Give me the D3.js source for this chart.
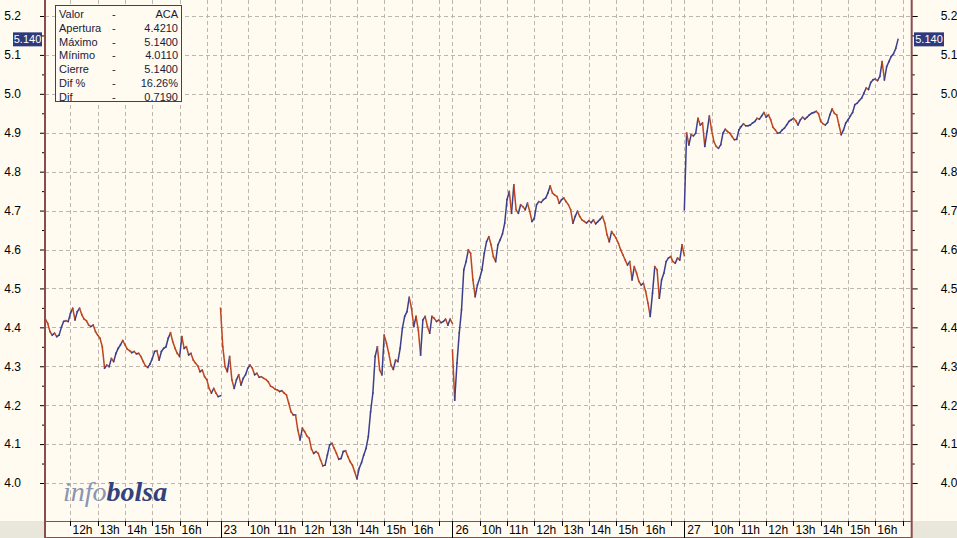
<!DOCTYPE html>
<html>
<head>
<meta charset="utf-8">
<script src="https://cdn.jsdelivr.net/npm/d3@7"></script>
<style>
  body { margin: 0; background: #fffbf0; }
  svg { display: block; font-family: "Liberation Sans", Arial, sans-serif; }
</style>
</head>
<body>
<div id="chart"></div>
<script>
// sessions shown (day of month) and first bar of each session
const days = ["22", "23", "26", "27"];
const dayStart = ["11:05", "09:00", "09:00", "09:00"];

// prices every 5 minutes
const p22 = [4.421,4.410,4.389,4.380,4.385,4.376,4.380,4.400,4.415,4.417,4.415,4.436,4.449,4.419,4.440,4.449,4.432,4.421,4.417,4.406,4.402,4.406,4.389,4.380,4.372,4.350,4.295,4.303,4.299,4.320,4.312,4.333,4.346,4.355,4.366,4.355,4.344,4.340,4.335,4.338,4.332,4.333,4.325,4.312,4.301,4.297,4.306,4.320,4.338,4.340,4.316,4.338,4.346,4.350,4.372,4.386,4.363,4.346,4.333,4.325,4.376,4.346,4.350,4.329,4.333,4.316,4.308,4.301,4.286,4.290,4.273,4.265,4.243,4.231,4.243,4.231,4.222,4.224];
const p23 = [4.449,4.350,4.299,4.286,4.325,4.265,4.243,4.265,4.278,4.252,4.269,4.278,4.295,4.303,4.295,4.278,4.282,4.272,4.273,4.269,4.266,4.260,4.249,4.246,4.241,4.239,4.235,4.237,4.231,4.226,4.205,4.183,4.175,4.175,4.136,4.111,4.141,4.132,4.121,4.115,4.087,4.076,4.081,4.076,4.059,4.044,4.046,4.072,4.098,4.102,4.089,4.076,4.061,4.063,4.081,4.083,4.068,4.055,4.046,4.029,4.011,4.038,4.052,4.072,4.089,4.119,4.183,4.231,4.325,4.350,4.290,4.278,4.380,4.359,4.333,4.303,4.292,4.316,4.312,4.346,4.398,4.428,4.440,4.477,4.449,4.402,4.428,4.393,4.329,4.419,4.428,4.402,4.385,4.428,4.423,4.415,4.419,4.412,4.415,4.421,4.406,4.421,4.410];
const p26 = [4.342,4.213,4.308,4.385,4.445,4.548,4.569,4.599,4.590,4.522,4.479,4.509,4.526,4.548,4.590,4.620,4.633,4.612,4.582,4.569,4.612,4.625,4.640,4.668,4.728,4.749,4.693,4.766,4.702,4.693,4.715,4.710,4.702,4.719,4.698,4.672,4.680,4.715,4.723,4.721,4.728,4.732,4.745,4.763,4.745,4.740,4.736,4.719,4.728,4.732,4.723,4.715,4.702,4.668,4.685,4.698,4.685,4.676,4.672,4.668,4.674,4.669,4.676,4.666,4.672,4.678,4.685,4.668,4.638,4.620,4.646,4.638,4.629,4.616,4.599,4.586,4.573,4.560,4.569,4.522,4.556,4.539,4.518,4.509,4.513,4.492,4.462,4.428,4.488,4.556,4.548,4.475,4.522,4.539,4.569,4.578,4.582,4.569,4.565,4.578,4.573,4.612,4.584];
const p27 = [4.702,4.899,4.869,4.895,4.892,4.899,4.937,4.920,4.925,4.865,4.903,4.943,4.907,4.877,4.865,4.860,4.869,4.899,4.909,4.903,4.899,4.890,4.882,4.883,4.907,4.916,4.923,4.918,4.918,4.920,4.925,4.929,4.937,4.935,4.943,4.952,4.940,4.946,4.933,4.914,4.907,4.899,4.900,4.907,4.912,4.920,4.929,4.933,4.937,4.931,4.920,4.933,4.940,4.935,4.940,4.946,4.950,4.952,4.955,4.949,4.929,4.923,4.920,4.926,4.946,4.961,4.950,4.946,4.920,4.895,4.907,4.925,4.933,4.943,4.952,4.972,4.976,4.983,4.989,5.002,5.015,5.011,5.029,5.036,5.038,5.034,5.045,5.083,5.036,5.070,5.083,5.096,5.103,5.117,5.140];
const prices = [p22, p23, p26, p27];

const yTicks = [4.0, 4.1, 4.2, 4.3, 4.4, 4.5, 4.6, 4.7, 4.8, 4.9, 5.0, 5.1, 5.2];
const yMinor = [4.05, 4.15, 4.25, 4.35, 4.45, 4.55, 4.65, 4.75, 4.85, 4.95, 5.05, 5.15];
const hourTicks = [10, 11, 12, 13, 14, 15, 16, 17];
const legendLabels = ["Valor", "Apertura", "Máximo", "Mínimo", "Cierre", "Dif %", "Dif"];
const legendValues = ["ACA", "4.4210", "5.1400", "4.0110", "5.1400", "16.26%", "0.7190"];
const lastPrice = 5.140;

const width = 957, height = 538;
const left = 45, right = 911.7, bottom = 521;
const session = 510; // 09:00 - 17:30 in minutes
const upColor = "#3b3f8e", downColor = "#bd4620";
const gridColor = "#bcb8b0", frameColor = "#8a4c4c";

const toMin = s => { const [h, m] = s.split(":").map(Number); return h * 60 + m - 540; };

// build series on a trading-minute axis
const series = days.map((d, i) => prices[i].map((v, k) => ({ t: i * session + toMin(dayStart[i]) + 5 * k, v })));

const x = d3.scaleLinear().domain([124, 3 * session + 500]).range([left, right]);
const y = d3.scaleLinear().domain([4.0, 5.2]).range([483, 16]);

const svg = d3.select("#chart").append("svg")
  .attr("width", width).attr("height", height)
  .attr("viewBox", `0 0 ${width} ${height}`);

svg.append("rect").attr("width", width).attr("height", height).attr("fill", "#fffbf0");

// grey corners of the time strip
svg.append("rect").attr("x", 0).attr("y", bottom).attr("width", left).attr("height", height - bottom).attr("fill", "#e9e6dc");
svg.append("rect").attr("x", right).attr("y", bottom).attr("width", width - right).attr("height", height - bottom).attr("fill", "#e9e6dc");

// time ticks
const dayTicks = [], hourT = [];
days.forEach((d, i) => {
  if (i > 0) dayTicks.push({ t: i * session, label: d });
  hourTicks.forEach(h => {
    const t = i * session + (h - 9) * 60;
    if (t > x.domain()[0] && t < x.domain()[1]) hourT.push({ t, label: h < 17 ? h + "h" : "" });
  });
});

// grid
const grid = svg.append("g").attr("stroke", gridColor).attr("stroke-dasharray", "4,3").attr("stroke-width", 1);
grid.selectAll(".gh").data(yTicks).enter().append("line")
  .attr("x1", left).attr("x2", right)
  .attr("y1", d => Math.round(y(d)) + 0.5).attr("y2", d => Math.round(y(d)) + 0.5);
grid.selectAll(".gv").data(hourT.concat(dayTicks)).enter().append("line")
  .attr("x1", d => Math.round(x(d.t)) + 0.5).attr("x2", d => Math.round(x(d.t)) + 0.5)
  .attr("y1", 0).attr("y2", bottom);

// price line, coloured by direction
const lines = svg.append("g").attr("stroke-width", 1.5).attr("stroke-linecap", "square");
series.forEach(s => {
  lines.selectAll(null).data(d3.pairs(s)).enter().append("line")
    .attr("x1", d => x(d[0].t)).attr("y1", d => y(d[0].v))
    .attr("x2", d => x(d[1].t)).attr("y2", d => y(d[1].v))
    .attr("stroke", d => d[1].v >= d[0].v ? upColor : downColor);
});

// watermark
const wm = svg.append("text").attr("x", 63).attr("y", 501)
  .attr("font-family", "'Liberation Serif', 'DejaVu Serif', serif")
  .attr("font-style", "italic").attr("font-size", 28);
wm.append("tspan").attr("fill", "#8a93b4").text("info");
wm.append("tspan").attr("fill", "#33427a").attr("font-weight", "bold").text("bolsa");

// y axes
const yAxisL = d3.axisLeft(y).tickValues(yTicks).tickSize(5).tickPadding(19).tickFormat(d3.format(".1f"));
const yAxisR = d3.axisRight(y).tickValues(yTicks).tickSize(6).tickPadding(23).tickFormat(d3.format(".1f"));
const gl = svg.append("g").attr("transform", `translate(${left},0)`).call(yAxisL);
const gr = svg.append("g").attr("transform", `translate(${right},0)`).call(yAxisR);
[gl, gr].forEach(g => {
  g.select(".domain").remove();
  g.selectAll("text").attr("font-size", 12).attr("fill", "#000").attr("font-family", "'Liberation Sans', Arial, sans-serif");
  g.selectAll("line").attr("stroke", "#000");
});
svg.append("g").attr("transform", `translate(${left},0)`)
  .call(d3.axisLeft(y).tickValues(yMinor).tickSize(3).tickFormat(""))
  .call(g => g.select(".domain").remove());
svg.append("g").attr("transform", `translate(${right},0)`)
  .call(d3.axisRight(y).tickValues(yMinor).tickSize(3).tickFormat(""))
  .call(g => g.select(".domain").remove());

// frame
svg.append("line").attr("x1", left).attr("x2", left).attr("y1", 0).attr("y2", height).attr("stroke", frameColor).attr("stroke-width", 2);
svg.append("line").attr("x1", right).attr("x2", right).attr("y1", 0).attr("y2", height).attr("stroke", frameColor).attr("stroke-width", 2);
svg.append("line").attr("x1", left).attr("x2", right).attr("y1", bottom + 0.5).attr("y2", bottom + 0.5).attr("stroke", frameColor).attr("stroke-width", 1);
svg.append("line").attr("x1", left).attr("x2", right).attr("y1", height - 0.5).attr("y2", height - 0.5).attr("stroke", frameColor).attr("stroke-width", 1);

// time axis
const xa = svg.append("g").attr("font-size", 12).attr("fill", "#000");
xa.selectAll(".ht").data(hourT).enter().append("line")
  .attr("x1", d => Math.round(x(d.t)) + 0.5).attr("x2", d => Math.round(x(d.t)) + 0.5)
  .attr("y1", bottom).attr("y2", bottom + 5).attr("stroke", "#000");
xa.selectAll(".hl").data(hourT).enter().append("text")
  .attr("x", d => x(d.t) + 2).attr("y", 534).text(d => d.label);
xa.selectAll(".dt").data(dayTicks).enter().append("line")
  .attr("x1", d => Math.round(x(d.t)) + 0.5).attr("x2", d => Math.round(x(d.t)) + 0.5)
  .attr("y1", bottom).attr("y2", height).attr("stroke", "#000");
xa.selectAll(".dl").data(dayTicks).enter().append("text")
  .attr("x", d => x(d.t) + 3).attr("y", 534).text(d => d.label);

// last price tags
[[13, 29], [914, 30]].forEach(([bx, bw]) => {
  svg.append("rect").attr("x", bx).attr("y", y(lastPrice) - 7).attr("width", bw).attr("height", 14).attr("fill", "#2f3a7c");
  svg.append("text").attr("x", bx + bw / 2).attr("y", y(lastPrice) + 4).attr("text-anchor", "middle")
    .attr("font-size", 11).attr("fill", "#fff").text(d3.format(".3f")(lastPrice));
});

// info box
const box = svg.append("g").attr("font-size", 11).attr("fill", "#1a1a3a");
box.append("rect").attr("x", 55.5).attr("y", 5.5).attr("width", 126).attr("height", 96)
  .attr("fill", "#fffbf0").attr("stroke", "#3c3c78");
legendLabels.forEach((l, i) => {
  const ty = 18 + i * 13.8;
  box.append("text").attr("x", 59).attr("y", ty).text(l);
  box.append("text").attr("x", 112).attr("y", ty).text("-");
  box.append("text").attr("x", 178).attr("y", ty).attr("text-anchor", "end").text(legendValues[i]);
});
</script>
</body>
</html>
